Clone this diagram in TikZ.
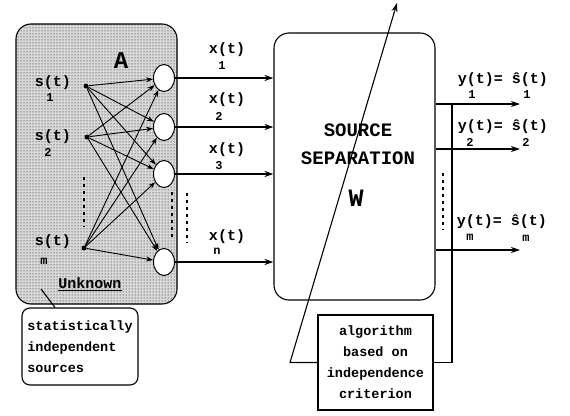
\documentclass[tikz,border=0pt]{standalone}
\usepackage{fontspec}
\setmonofont{Liberation Mono}
\usetikzlibrary{arrows.meta,positioning,shapes.geometric,patterns}

\begin{document}
\begin{tikzpicture}[
    x=1pt, y=-1pt,
    lbl/.style={font=\ttfamily\bfseries\fontsize{15}{15}\selectfont, inner sep=0pt},
    sub/.style={font=\ttfamily\bfseries\fontsize{12}{12}\selectfont, inner sep=0pt},
    mixbox/.style={draw, line width=1.1pt, rounded corners=15pt, minimum width=161pt, minimum height=280pt, preaction={fill=gray!30}, pattern=dots},
    sepbox/.style={draw, line width=1.1pt, rounded corners=15pt, minimum width=161pt, minimum height=267pt},
    src/.style={circle, fill, inner sep=0pt, minimum size=5pt},
    mixer/.style={ellipse, draw, line width=1pt, fill=white, minimum width=21pt, minimum height=27pt, inner sep=0pt},
    mix/.style={-{Stealth[length=7pt,width=5pt]}, line width=0.9pt},
    sig/.style={-{Stealth[length=9pt,width=6pt]}, line width=1.3pt},
    wire/.style={line width=1.1pt},
    dotcol/.style={line width=1.6pt, dash pattern=on 3pt off 4pt}
]
\useasboundingbox (0,0) rectangle (570,415);

% unknown mixing part
\node[mixbox] (mixing) at (96.5,164) {};
\node[font=\ttfamily\bfseries\fontsize{24}{24}\selectfont, inner sep=0pt] (amat) at (121,61) {A};
\node[lbl] (ls1) at (53,83) {s(t)};
\node[sub] (ls1i) at (50,98) {1};
\node[lbl] (ls2) at (53,137) {s(t)};
\node[sub] (ls2i) at (48,152) {2};
\node[lbl] (lsm) at (53,242) {s(t)};
\node[sub] (lsmi) at (44,261) {m};
\node[lbl] (unk) at (90,284) {\underline{Unknown}};

\node[src] (s1) at (86,86) {};
\node[src] (s2) at (87,137) {};
\node[src] (sm) at (84,248) {};
\node[mixer] (m1) at (164,78) {};
\node[mixer] (m2) at (164,127) {};
\node[mixer] (m3) at (164,174) {};
\node[mixer] (mn) at (164,262) {};

\draw[mix] (s1) edge (m1) edge (m2) edge (m3) edge (mn);
\draw[mix] (s2) edge (m1) edge (m2) edge (m3) edge (mn);
\draw[mix] (sm) edge (m1) edge (m2) edge (m3) edge (mn);
\draw[dotcol] (84,177) -- (84,227);
\draw[dotcol] (172,192) -- (172,238);

% separation part
\node[sepbox] (sep) at (354.5,166.5) {};
\node[font=\ttfamily\bfseries\fontsize{19}{19}\selectfont, inner sep=0pt] (sepname) at (358,130) {SOURCE};
\node[font=\ttfamily\bfseries\fontsize{19}{19}\selectfont, inner sep=0pt] (sepname2) at (358,158) {SEPARATION};
\node[font=\ttfamily\bfseries\fontsize{25}{25}\selectfont, inner sep=0pt] (wmat) at (356,198) {W};

\draw[sig] (m1.east) -- (m1.east -| sep.west);
\draw[sig] (m2.east) -- (m2.east -| sep.west);
\draw[sig] (m3.east) -- (m3.east -| sep.west);
\draw[sig] (mn.east) -- (mn.east -| sep.west);
\node[lbl] (lx1) at (227,50) {x(t)};
\node[sub] (lx1i) at (222,66) {1};
\node[lbl] (lx2) at (227,100) {x(t)};
\node[sub] (lx2i) at (219,116) {2};
\node[lbl] (lx3) at (227,150) {x(t)};
\node[sub] (lx3i) at (219,166) {3};
\node[lbl] (lxn) at (227,237) {x(t)};
\node[sub] (lxni) at (217,251) {n};
\draw[dotcol] (187,193) -- (187,243);

% outputs
\coordinate (o1) at (520,104);
\coordinate (o2) at (520,149);
\coordinate (om) at (520,250);
\draw[sig] (o1 -| sep.east) -- (o1);
\draw[sig] (o2 -| sep.east) -- (o2);
\draw[sig] (om -| sep.east) -- (om);
\node[lbl] (ly1) at (503,80) {y(t)= \^{s}(t)};
\node[sub] (ly1i) at (472,95) {1};
\node[sub] (ly1j) at (527,95) {1};
\node[lbl] (ly2) at (503,127) {y(t)= \^{s}(t)};
\node[sub] (ly2i) at (470,142) {2};
\node[sub] (ly2j) at (526,142) {2};
\node[lbl] (lym) at (502,222) {y(t)= \^{s}(t)};
\node[sub] (lymi) at (470,237) {m};
\node[sub] (lymj) at (526,238) {m};
\draw[dotcol] (443,173) -- (443,230);

% learning loop
\node[draw, line width=1.1pt, minimum width=115pt, minimum height=95pt, align=center, inner sep=0pt,
      font=\ttfamily\bfseries\fontsize{13.5}{21}\selectfont] (algo) at (375.5,362.5)
      {algorithm\\based on\\independence\\criterion};
\coordinate (tap) at (452,104);
\coordinate (bend) at (290,362.5);
\coordinate (tip) at (397,3);
\draw[wire] (tap) |- (algo.east);
\draw[wire, -{Stealth[length=9pt,width=6pt]}] (algo.west) -- (bend) -- (tip);

% note on the sources
\node[draw, line width=1.1pt, rounded corners=8pt, minimum width=116pt, minimum height=77pt, align=left, inner xsep=4pt,
      font=\ttfamily\bfseries\fontsize{13.5}{21}\selectfont] (indep) at (80,346.5)
      {statistically\\independent\\sources};
\coordinate (ptr) at (41,289);
\draw[wire] (ptr) -- ([xshift=-25pt]indep.north);
\end{tikzpicture}
\end{document}
